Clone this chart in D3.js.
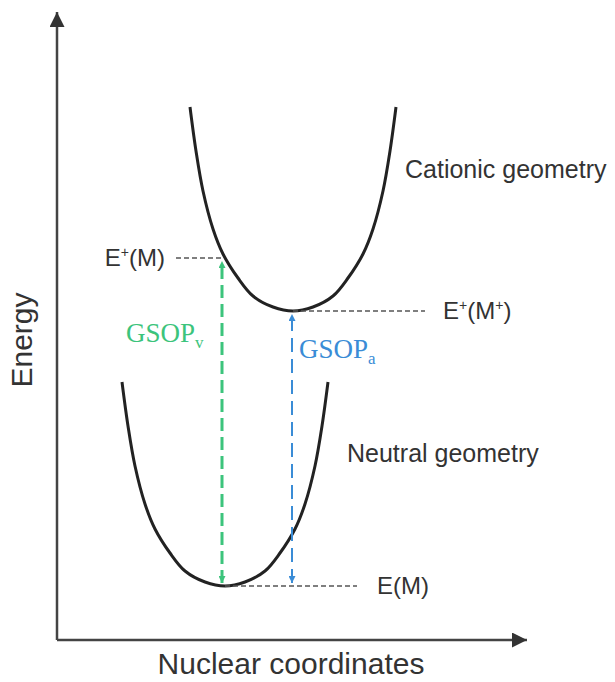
<!DOCTYPE html>
<html>
<head>
  <meta charset="utf-8">
  <script src="https://cdn.jsdelivr.net/npm/d3@7"></script>
  <title>GSOP energy diagram</title>
  <style>
    body { margin: 0; background: #fff; }
    text { font-family: "Liberation Sans", Arial, sans-serif; fill: #333; }
  </style>
</head>
<body>
<script>
  // curve points (nuclear coordinate, energy)
  var cationic = [
    [13.3, 53.3], [13.9, 48.9], [14.6, 44.9], [15.6, 41.1], [16.6, 38.6], [18.1, 36.2],
    [19.6, 34.4], [21.6, 33.3], [23.6, 32.9], [25.6, 33.3], [27.6, 34.4], [29.1, 36.2],
    [30.6, 38.6], [31.6, 41.1], [32.6, 44.9], [33.3, 48.9], [33.9, 53.3]
  ];
  var neutral = [
    [6.5, 25.8], [7.1, 21.4], [7.8, 17.4], [8.8, 13.6], [9.8, 11.1], [11.3, 8.7],
    [12.8, 6.9], [14.8, 5.8], [16.8, 5.4], [18.8, 5.8], [20.8, 6.9], [22.3, 8.7],
    [23.8, 11.1], [24.8, 13.6], [25.8, 17.4], [26.5, 21.4], [27.1, 25.8]
  ];

  // energy levels: name, energy, dashed line from x1 to x2
  var levels = [
    { name: "E+(M)",  e: 38.2, x1: 11.9, x2: 16.5 },
    { name: "E+(M+)", e: 32.9, x1: 23.6, x2: 36.8 },
    { name: "E(M)",   e: 5.4,  x1: 16.8, x2: 30.0 }
  ];

  // vertical transitions
  var gsop = [
    { sub: "v", x: 16.5, from: 5.4, to: 38.2, color: "#3cc47c" },
    { sub: "a", x: 23.5, from: 5.4, to: 32.9, color: "#3a8cd6" }
  ];

  var width = 615, height = 682;

  var svg = d3.select("body")
              .append("svg")
              .attr("width", width)
              .attr("height", height);

  var x = d3.scaleLinear().domain([0, 47]).range([57, 527]);
  var y = d3.scaleLinear().domain([0, 62.8]).range([640, 12]);

  var defs = svg.append("defs");

  defs.append("marker")
      .attr("id", "axis_arrow")
      .attr("viewBox", "0 0 10 10")
      .attr("refX", 10).attr("refY", 5)
      .attr("markerUnits", "userSpaceOnUse")
      .attr("markerWidth", 15).attr("markerHeight", 15)
      .attr("orient", "auto")
      .append("path")
      .attr("d", "M0,0 L10,5 L0,10 z")
      .style("fill", "#333");

  gsop.forEach(function(g, i){
    defs.append("marker")
        .attr("id", "head_" + i)
        .attr("viewBox", "0 0 10 10")
        .attr("refX", 10).attr("refY", 5)
        .attr("markerUnits", "userSpaceOnUse")
        .attr("markerWidth", 7).attr("markerHeight", 7)
        .attr("orient", "auto-start-reverse")
        .append("path")
        .attr("d", "M0,0 L10,5 L0,10 z")
        .style("fill", g.color);
  });

  // axes
  svg.append("line")
     .attr("x1", x(0)).attr("y1", y(0))
     .attr("x2", x(0)).attr("y2", y(62.8))
     .style("stroke", "#444").style("stroke-width", 2.5)
     .attr("marker-end", "url(#axis_arrow)");

  svg.append("line")
     .attr("x1", x(0)).attr("y1", y(0))
     .attr("x2", x(47)).attr("y2", y(0))
     .style("stroke", "#444").style("stroke-width", 2.5)
     .attr("marker-end", "url(#axis_arrow)");

  svg.append("text")
     .attr("transform", "translate(32," + y(30) + ") rotate(-90)")
     .style("text-anchor", "middle")
     .style("font-size", "30px")
     .text("Energy");

  svg.append("text")
     .attr("x", x(23.4)).attr("y", 674)
     .style("text-anchor", "middle")
     .style("font-size", "30px")
     .text("Nuclear coordinates");

  // potential energy curves
  var line = d3.line()
               .x(function(d){ return x(d[0]); })
               .y(function(d){ return y(d[1]); })
               .curve(d3.curveCatmullRom);

  [cationic, neutral].forEach(function(c){
    svg.append("path")
       .attr("d", line(c))
       .style("fill", "none")
       .style("stroke", "#222")
       .style("stroke-width", 3);
  });

  svg.append("text")
     .attr("x", 405).attr("y", y(46.2))
     .style("font-size", "25px")
     .text("Cationic geometry");

  svg.append("text")
     .attr("x", 347).attr("y", y(17.8))
     .style("font-size", "25px")
     .text("Neutral geometry");

  // level lines
  svg.selectAll(".level")
     .data(levels)
     .enter()
     .append("line")
     .classed("level", true)
     .attr("x1", function(d){ return x(d.x1); })
     .attr("x2", function(d){ return x(d.x2); })
     .attr("y1", function(d){ return y(d.e); })
     .attr("y2", function(d){ return y(d.e); })
     .style("stroke", "#555")
     .style("stroke-width", 1.5)
     .style("stroke-dasharray", "5,3");

  function level_label(d, xpos, anchor){
    var t = svg.append("text")
               .attr("x", xpos)
               .attr("y", y(d.e) + 8)
               .style("text-anchor", anchor)
               .style("font-size", "24px");
    var parts = d.name.split("+");
    t.append("tspan").text(parts[0]);
    for (var i = 1; i < parts.length; i++) {
      t.append("tspan").attr("dy", -9).style("font-size", "14px").text("+");
      t.append("tspan").attr("dy", 9).text(parts[i]);
    }
  }

  level_label(levels[0], 165, "end");
  level_label(levels[1], 443, "start");
  level_label(levels[2], 377, "start");

  // vertical GSOP arrows
  svg.selectAll(".gsop")
     .data(gsop)
     .enter()
     .append("line")
     .classed("gsop", true)
     .attr("x1", function(d){ return x(d.x); })
     .attr("x2", function(d){ return x(d.x); })
     .attr("y1", function(d){ return y(d.from) - 3; })
     .attr("y2", function(d){ return y(d.to) + 3; })
     .style("stroke", function(d){ return d.color; })
     .style("stroke-width", function(d, i){ return i == 0 ? 3 : 2; })
     .style("stroke-dasharray", function(d, i){ return i == 0 ? "13,6" : "14,7"; })
     .attr("marker-start", function(d, i){ return "url(#head_" + i + ")"; })
     .attr("marker-end", function(d, i){ return "url(#head_" + i + ")"; });

  var gsop_pos = [[126, 342], [299, 358]];

  gsop.forEach(function(g, i){
    var t = svg.append("text")
               .attr("x", gsop_pos[i][0]).attr("y", gsop_pos[i][1])
               .style("font-family", "'Liberation Serif', 'Times New Roman', serif")
               .style("font-size", "27px")
               .style("fill", g.color);
    t.append("tspan").text("GSOP");
    t.append("tspan").attr("dy", 6).style("font-size", "17px").text(g.sub);
  });
</script>
</body>
</html>
